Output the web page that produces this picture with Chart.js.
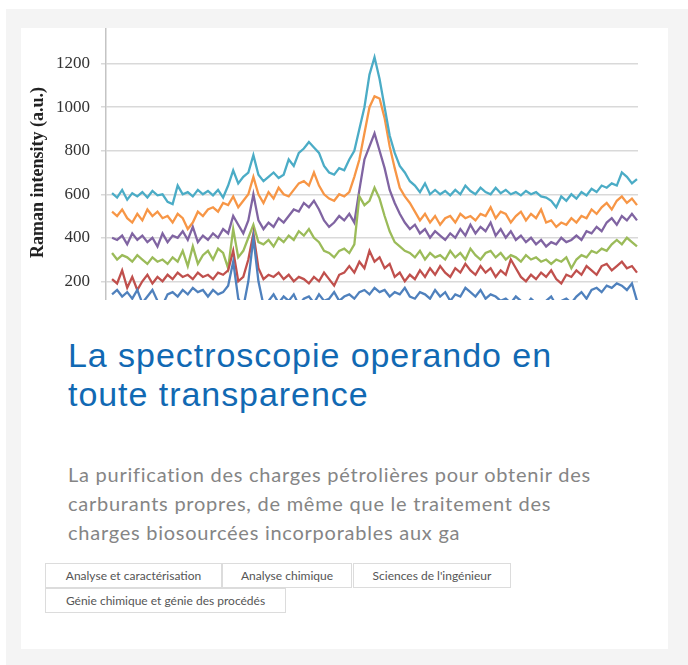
<!DOCTYPE html>
<html lang="fr">
<head>
<meta charset="utf-8">
<title>La spectroscopie operando en toute transparence</title>
<script src="https://cdn.jsdelivr.net/npm/chart.js@4.4.1/dist/chart.umd.min.js"></script>
<style>
  html, body { margin: 0; padding: 0; background: #fff; }
  body { width: 688px; height: 665px; position: relative; overflow: hidden; }
  .panel { position: absolute; left: 6px; top: 9px; right: 0; bottom: 0; background: #f4f4f4; }
  .card { position: absolute; left: 21px; top: 28px; width: 647px; height: 621px; background: #fff; }
  .thumb { position: absolute; left: 0; top: 0; width: 647px; height: 272px; overflow: hidden; }
  .plot { position: absolute; left: 0; top: -29px; width: 637px; height: 347px; }
  h2 {
    position: absolute; left: 47px; top: 308px; margin: 0;
    font: 400 34px/39px "Liberation Sans", Arial, sans-serif;
    letter-spacing: 0.95px; color: #1169b3; white-space: nowrap;
  }
  p {
    position: absolute; left: 47px; top: 432px; margin: 0;
    font: 400 20px/29px Lato, sans-serif; letter-spacing: 0.75px; color: #858585; white-space: nowrap;
  }
  .tags { position: absolute; left: 24px; top: 535px; width: 520px; }
  .tag {
    position: absolute; height: 23px; border: 1px solid #dcdcdc; box-sizing: content-box;
    font: 400 12px/23px Lato, sans-serif; color: #555; text-align: center; white-space: nowrap;
  }
</style>
</head>
<body>
<div class="panel"></div>
<div class="card">
  <div class="thumb"><div class="plot"><canvas id="ramanChart"></canvas></div></div>
  <h2>La spectroscopie operando en<br>toute transparence</h2>
  <p>La purification des charges pétrolières pour obtenir des<br>carburants propres, de même que le traitement des<br>charges biosourcées incorporables aux ga</p>
  <div class="tags">
    <div class="tag" style="left:0;top:0;width:175px">Analyse et caractérisation</div>
    <div class="tag" style="left:177px;top:0;width:128px">Analyse chimique</div>
    <div class="tag" style="left:308px;top:0;width:156px">Sciences de l'ingénieur</div>
    <div class="tag" style="left:0;top:25px;width:239px">Génie chimique et génie des procédés</div>
  </div>
</div>
<script>
// Raman spectra, one value every ~5 px, offset traces
const blue = [140, 160, 130, 150, 120, 160, 100, 130, 160, 110, 90, 140, 150, 130, 160, 140, 170, 150, 160, 130,
  160, 140, 150, 180, 290, 120, 80, 200, 400, 200, 90, 110, 140, 100, 130, 110, 140, 90, 120, 130,
  100, 140, 110, 120, 150, 110, 130, 140, 120, 150, 160, 140, 170, 150, 160, 130, 150, 140, 170, 130,
  120, 150, 140, 120, 160, 130, 150, 110, 140, 130, 170, 150, 130, 160, 120, 140, 130, 110, 120, 100,
  130, 110, 90, 120, 100, 80, 110, 130, 90, 110, 120, 100, 130, 150, 120, 160, 170, 150, 180, 170,
  190, 180, 160, 190, 110];
const red = [210, 190, 250, 170, 220, 160, 200, 230, 190, 220, 200, 230, 210, 240, 220, 230, 210, 240, 220, 230,
  210, 240, 230, 250, 340, 200, 220, 300, 420, 260, 210, 230, 220, 240, 210, 230, 200, 220, 210, 190,
  220, 200, 240, 210, 180, 230, 240, 270, 240, 290, 260, 340, 290, 310, 260, 280, 220, 240, 200, 230,
  210, 250, 220, 260, 230, 270, 240, 220, 260, 240, 280, 250, 230, 270, 240, 260, 220, 250, 230, 300,
  260, 220, 200, 230, 210, 240, 220, 250, 210, 190, 230, 220, 250, 230, 270, 250, 230, 270, 280, 250,
  270, 290, 260, 270, 240];
const green = [330, 300, 320, 310, 290, 320, 300, 280, 310, 290, 300, 280, 310, 290, 340, 270, 360, 280, 320, 340,
  300, 350, 330, 260, 440, 310, 340, 400, 460, 380, 370, 390, 360, 400, 380, 410, 390, 430, 410, 440,
  400, 380, 340, 330, 310, 340, 350, 330, 370, 590, 550, 570, 630, 580, 500, 430, 380, 360, 340, 330,
  310, 340, 300, 330, 310, 320, 300, 340, 310, 330, 300, 350, 320, 300, 330, 340, 310, 330, 300, 320,
  310, 290, 320, 300, 310, 290, 300, 280, 300, 290, 310, 260, 300, 320, 310, 340, 330, 350, 340, 370,
  390, 370, 400, 380, 360];
const purple = [400, 390, 410, 370, 420, 390, 410, 380, 400, 360, 420, 380, 410, 400, 430, 390, 450, 380, 410, 390,
  420, 400, 440, 420, 500, 460, 420, 480, 600, 480, 440, 470, 450, 490, 470, 500, 530, 520, 560, 540,
  570, 530, 480, 450, 470, 500, 480, 510, 470, 620, 760, 820, 880, 800, 720, 620, 560, 510, 470, 440,
  460, 420, 440, 400, 430, 410, 390, 420, 400, 440, 410, 460, 420, 450, 430, 470, 410, 440, 400, 430,
  390, 410, 380, 400, 370, 390, 360, 380, 370, 400, 380, 390, 410, 390, 430, 420, 450, 430, 470, 490,
  460, 500, 480, 510, 480];
const teal = [605, 585, 620, 575, 605, 590, 610, 585, 615, 595, 600, 565, 555, 640, 600, 610, 590, 620, 600, 615,
  595, 620, 585, 640, 710, 650, 680, 700, 780, 690, 660, 680, 700, 675, 690, 760, 730, 790, 810, 840,
  815, 790, 730, 700, 690, 720, 710, 760, 800, 900, 1000, 1150, 1230, 1130, 1000, 870, 790, 730, 700, 660,
  640, 610, 650, 600, 620, 600, 615, 595, 620, 600, 640, 615, 600, 630, 610, 600, 630, 605, 620, 600,
  610, 595, 615, 600, 610, 590, 585, 570, 540, 590, 570, 600, 580, 610, 595, 625, 610, 640, 630, 650,
  640, 700, 680, 650, 670];
const orange = [520, 500, 530, 490, 470, 510, 480, 530, 500, 520, 490, 500, 470, 510, 490, 440, 470, 520, 500, 530,
  540, 520, 560, 550, 590, 540, 570, 600, 680, 600, 560, 610, 580, 630, 600, 590, 620, 650, 660, 640,
  700, 640, 600, 580, 570, 600, 590, 610, 680, 760, 880, 1000, 1050, 1040, 950, 820, 720, 630, 590, 560,
  520, 480, 510, 470, 500, 460, 490, 500, 470, 510, 490, 500, 480, 510, 500, 540, 490, 520, 510, 470,
  500, 520, 480, 510, 490, 530, 470, 480, 450, 470, 460, 490, 470, 500, 490, 530, 510, 540, 560, 530,
  570, 590, 560, 580, 550];

const seriesColors = ["#4f81bd", "#c0504d", "#9bbb59", "#8064a2", "#4bacc6", "#f79646"];
const yTicks = [0, 200, 400, 600, 800, 1000, 1200, 1400];
const shift = teal.map((_, i) => i);

const ctx = document.getElementById("ramanChart").getContext("2d");
new Chart(ctx, {
  type: "line",
  data: {
    labels: shift,
    datasets: [blue, red, green, purple, teal, orange].map((values, k) => ({
      data: values,
      borderColor: seriesColors[k],
      borderWidth: 2.3,
      pointRadius: 0,
      tension: 0,
      fill: false,
    })),
  },
  options: {
    responsive: true,
    maintainAspectRatio: false,
    animation: false,
    events: [],
    layout: { padding: { top: 20, bottom: 20, left: 0, right: 20 } },
    plugins: { legend: { display: false }, tooltip: { enabled: false } },
    scales: {
      x: {
        type: "linear",
        min: -1.2,
        max: 104.2,
        display: false,
      },
      y: {
        min: 0,
        max: 1400,
        afterFit: (scale) => { scale.width = 85; },
        afterBuildTicks: (scale) => { scale.ticks = yTicks.map((v) => ({ value: v })); },
        ticks: {
          padding: 11,
          color: "#333",
          font: { family: "'Liberation Serif', 'DejaVu Serif', serif", size: 17 },
          callback: (v) => String(v),
        },
        grid: { color: "#d9d9d9", lineWidth: 1.5, tickLength: 5 },
        border: { display: true, color: "#c4c4c4", width: 1.5 },
        title: {
          display: true,
          text: "Raman intensity (a.u.)",
          color: "#222",
          padding: { top: 7, bottom: 0 },
          font: { family: "'Liberation Serif', 'DejaVu Serif', serif", size: 18, weight: "bold" },
        },
      },
    },
  },
});
</script>
</body>
</html>
